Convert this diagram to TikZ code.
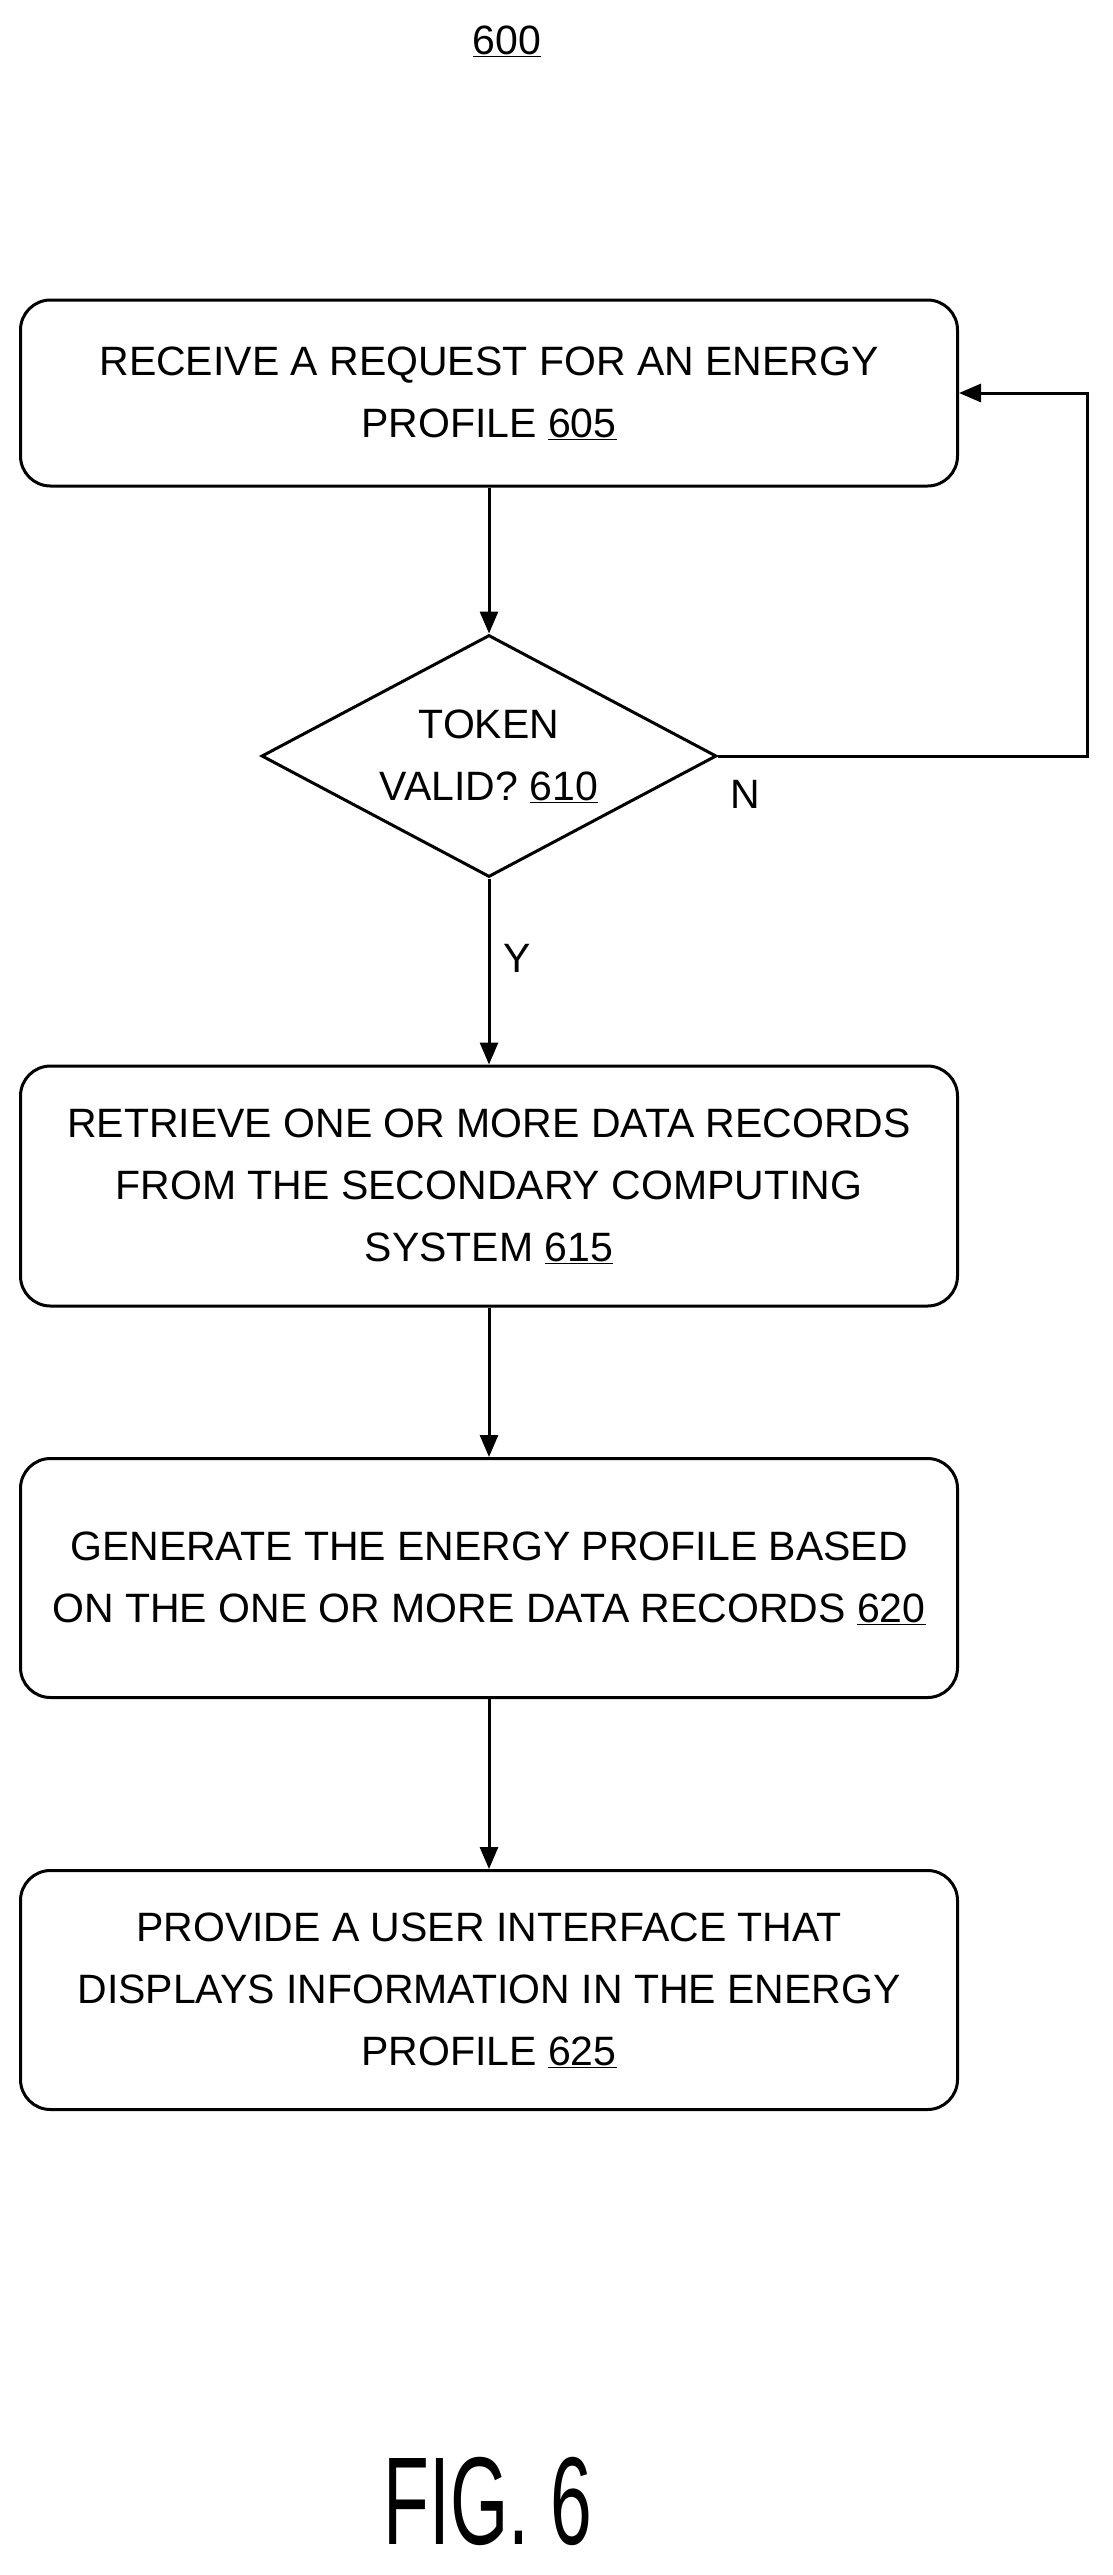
\documentclass[tikz,border=0pt]{standalone}
\usepackage{fontspec}
\setmainfont{Liberation Sans}
\usetikzlibrary{shapes.geometric,arrows.meta}
\begin{document}
\begin{tikzpicture}[x=1pt,y=-1pt,
 box/.style={draw,line width=3pt,rounded corners=30pt,minimum width=937pt,align=center,font=\fontsize{41}{62}\selectfont},
 arr/.style={line width=3pt,-{Triangle[length=22pt,width=18pt]}},
 lbl/.style={font=\fontsize{41}{50}\selectfont}]
\useasboundingbox (0,0) rectangle (1113,2575);
\node[lbl] (t600) at (507,41) {\underline{600}};
\node[box,minimum height=186pt] (b605) at (489,393) {RECEIVE A REQUEST FOR AN ENERGY\\PROFILE \underline{605}};
\node[draw,diamond,line width=3pt,minimum width=455pt,minimum height=242pt,inner sep=0pt] (d610) at (489,756) {};
\node[align=center,font=\fontsize{41}{62}\selectfont] (t610) at (489,756) {TOKEN\\VALID? \underline{610}};
\node[box,minimum height=240pt] (b615) at (489,1186) {RETRIEVE ONE OR MORE DATA RECORDS\\FROM THE SECONDARY COMPUTING\\SYSTEM \underline{615}};
\node[box,minimum height=239pt] (b620) at (489,1578) {GENERATE THE ENERGY PROFILE BASED\\ON THE ONE OR MORE DATA RECORDS \underline{620}};
\node[box,minimum height=239pt] (b625) at (489,1990) {PROVIDE A USER INTERFACE THAT\\DISPLAYS INFORMATION IN THE ENERGY\\PROFILE \underline{625}};
\node[lbl] (lN) at (745,794) {N};
\node[lbl] (lY) at (517,958) {Y};
\node[font=\fontsize{125}{130}\selectfont,xscale=0.6] (fig) at (488,2501) {FIG. 6};
\coordinate (c1) at (1087,756);
\coordinate (c2) at (1087,393);
\draw[arr] (b605) -- (d610);
\draw[arr] (d610.south) -- (b615);
\draw[arr] (b615) -- (b620);
\draw[arr] (b620) -- (b625);
\draw[arr] (d610.east) -- (c1) -- (c2) -- (b605.east);
\end{tikzpicture}
\end{document}
